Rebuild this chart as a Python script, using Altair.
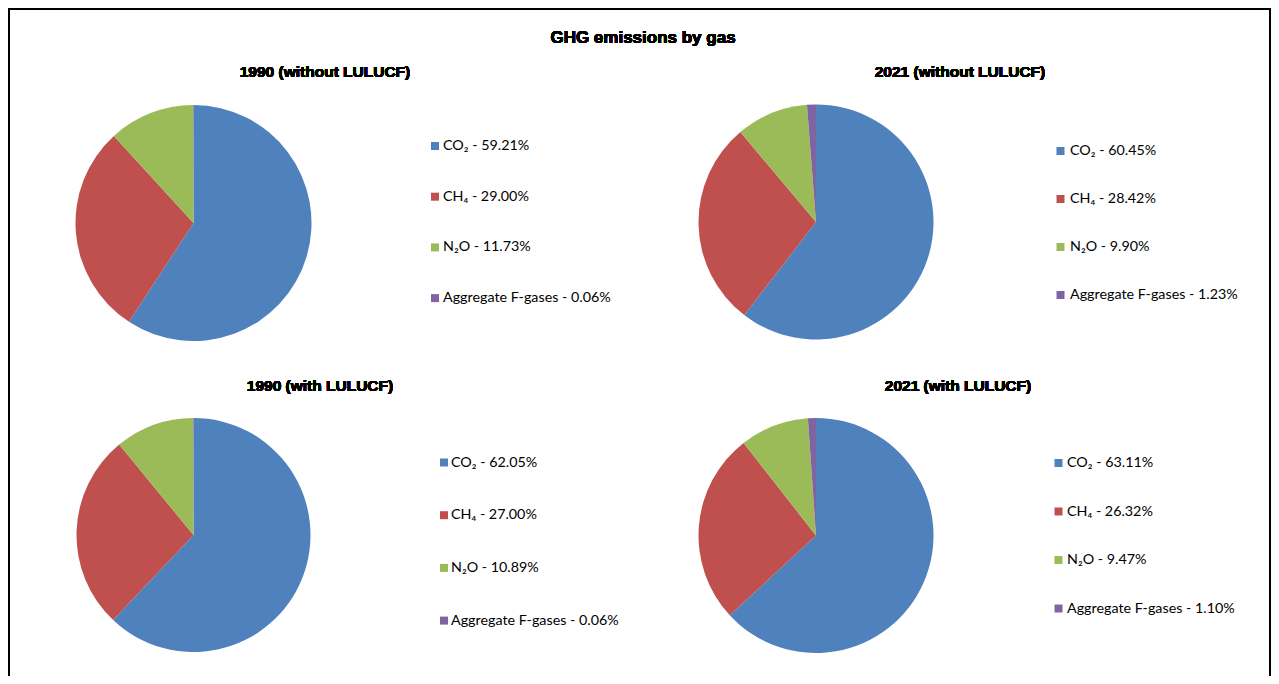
import altair as alt
import pandas as pd

# ---- data ----
gases = ["CO₂", "CH₄", "N₂O", "Aggregate F-gases"]
colors = ["#4F81BD", "#C0504D", "#9BBB59", "#8064A2"]
panels = ["1990 (without LULUCF)", "2021 (without LULUCF)",
          "1990 (with LULUCF)", "2021 (with LULUCF)"]
share_1990_without = [59.21, 29.00, 11.73, 0.06]
share_2021_without = [60.45, 28.42, 9.90, 1.23]
share_1990_with = [62.05, 27.00, 10.89, 0.06]
share_2021_with = [63.11, 26.32, 9.47, 1.10]
main_title = "GHG emissions by gas"

series = [share_1990_without, share_2021_without, share_1990_with, share_2021_with]
rows = []
for p, vals in zip(panels, series):
    for i, (g, v) in enumerate(zip(gases, vals)):
        rows.append({"panel": p, "gas": g, "share": v, "idx": i,
                     "label": f"{g} - {v:.2f}%"})
df = pd.DataFrame(rows)

W, H = 1263, 668

# layout (plot-area pixels)
layout = {
    panels[0]: dict(cx=185.5, cy=215, r=118, tx=317, ty=64, sqx=427, lx=435, ly0=138, dy=50.7),
    panels[1]: dict(cx=808, cy=214, r=117.5, tx=952, ty=64, sqx=1052.5, lx=1062, ly0=143, dy=48),
    panels[2]: dict(cx=185.5, cy=527, r=117, tx=312, ty=378, sqx=436, lx=443, ly0=454.5, dy=52.7),
    panels[3]: dict(cx=808, cy=527.5, r=117.5, tx=950, ty=378, sqx=1050.5, lx=1059, ly0=455, dy=48.5),
}

color_scale = alt.Scale(domain=gases, range=colors)

layers = []
for p in panels:
    L = layout[p]
    base = alt.Chart(df).transform_filter(alt.datum.panel == p)
    pie = base.mark_arc(outerRadius=L["r"]).encode(
        theta=alt.Theta("share:Q", stack=True),
        color=alt.Color("gas:N", scale=color_scale, legend=None),
        order=alt.Order("idx:Q"),
        x=alt.value(L["cx"]),
        y=alt.value(L["cy"]),
    )
    leg = base.transform_calculate(ly=f"{L['ly0']} + datum.idx * {L['dy']}")
    sq = leg.mark_square(size=64, opacity=1).encode(
        x=alt.value(L["sqx"]),
        y=alt.Y("ly:Q", scale=None, axis=None),
        color=alt.Color("gas:N", scale=color_scale, legend=None),
    )
    txt = leg.mark_text(align="left", baseline="middle", font="Lato",
                        fontSize=14.3, color="#000000").encode(
        x=alt.value(L["lx"]),
        y=alt.Y("ly:Q", scale=None, axis=None),
        text="label:N",
    )
    sub = alt.Chart(df).mark_text(font="Liberation Sans", fontWeight="bold",
                                   fontSize=15.5, align="center", baseline="middle",
                                   color="#000000").encode(
        x=alt.value(L["tx"]), y=alt.value(L["ty"]), text=alt.value(p))
    layers += [pie, sq, txt, sub]

title = alt.Chart(df).mark_text(font="Liberation Sans", fontWeight="bold",
                                fontSize=17, align="center", baseline="middle",
                                color="#000000").encode(
    x=alt.value(635), y=alt.value(30), text=alt.value(main_title))

frame_left = alt.Chart(df).mark_rule(color="#000000", strokeWidth=2).encode(
    x=alt.value(1), y=alt.value(0), y2=alt.value(H))
frame_top = alt.Chart(df).mark_rule(color="#000000", strokeWidth=2).encode(
    x=alt.value(0), x2=alt.value(W), y=alt.value(1))
frame_right = alt.Chart(df).mark_rule(color="#000000", strokeWidth=2).encode(
    x=alt.value(W - 1), y=alt.value(0), y2=alt.value(H))

chart = alt.layer(*layers, title, frame_left, frame_top, frame_right).resolve_scale(
    theta="independent"
).properties(
    width=W, height=H, padding=0, autosize=alt.AutoSizeParams(type="none")
).configure_view(stroke=None)

chart.save("out.html", embed_options={"renderer": "svg", "actions": False})
